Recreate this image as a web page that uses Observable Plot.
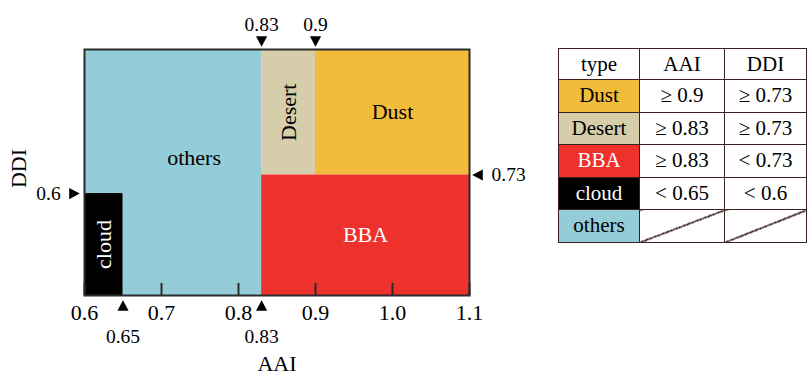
<!DOCTYPE html>
<html><head><meta charset="utf-8">
<script src="https://cdn.jsdelivr.net/npm/d3@7"></script>
<script src="https://cdn.jsdelivr.net/npm/@observablehq/plot@0.6"></script>
<style>
body{margin:0;background:#fff;}
#wrap{position:relative;width:807px;height:375px;font-family:"Liberation Serif",serif;}
#wrap svg{position:absolute;left:0;top:0;}
table{position:absolute;left:558px;top:48px;border-collapse:collapse;font-size:21px;font-family:"Liberation Serif",serif;}
td{border:1.5px solid #3b2020;text-align:center;padding:0;line-height:1;}
td.diag{background:linear-gradient(to bottom right, transparent calc(50% - 1px), #3b2020 calc(50% - 1px), #3b2020 calc(50% + 0.6px), transparent calc(50% + 0.6px));}
</style></head><body><div id="wrap"></div>
<script>
// ---- data ----
const types = ["Dust", "Desert", "BBA", "cloud", "others"];
const typeColors = ["#f2bc3a", "#d6cdab", "#ee312d", "#000000", "#94cdd8"];
const typeTextColors = ["#000000", "#000000", "#ffffff", "#ffffff", "#000000"];
const ddiMin = -0.115, ddiMax = 1.61; // schematic DDI extent of the panel
const regionType = ["others", "cloud", "Desert", "Dust", "BBA"];
const regionAAI = [[0.6, 0.83], [0.6, 0.65], [0.83, 0.9], [0.9, 1.1], [0.83, 1.1]];
const regionDDI = [[ddiMin, ddiMax], [ddiMin, 0.6], [0.73, ddiMax], [0.73, ddiMax], [ddiMin, 0.73]];
const regionRotate = [0, -90, -90, 0, 0];
const xTicks = [0.6, 0.7, 0.8, 0.9, 1.0, 1.1];
const topMarks = [0.83, 0.9];
const bottomMarks = [0.65, 0.83];
const leftMarks = [0.6];
const rightMarks = [0.73];
const tableHeader = ["type", "AAI", "DDI"];
const ruleAAI = ["≥ 0.9", "≥ 0.83", "≥ 0.83", "< 0.65", null];
const ruleDDI = ["≥ 0.73", "≥ 0.73", "< 0.73", "< 0.6", null];

// ---- build ----
const regions = regionType.map((t, i) => ({
  type: t, x1: regionAAI[i][0], x2: regionAAI[i][1], y1: regionDDI[i][0], y2: regionDDI[i][1],
  cx: (regionAAI[i][0] + regionAAI[i][1]) / 2, cy: (regionDDI[i][0] + regionDDI[i][1]) / 2,
  rotate: regionRotate[i],
  tc: typeTextColors[types.indexOf(t)]
}));

function tri(dir) {
  return {
    draw(ctx, size) {
      const r = Math.sqrt(size / Math.PI);
      const h = r * 1.9 / 2;
      if (dir === "down") { ctx.moveTo(-r, -h); ctx.lineTo(r, -h); ctx.lineTo(0, h); }
      if (dir === "up") { ctx.moveTo(-r, h); ctx.lineTo(r, h); ctx.lineTo(0, -h); }
      if (dir === "right") { ctx.moveTo(-h, -r); ctx.lineTo(-h, r); ctx.lineTo(h, 0); }
      if (dir === "left") { ctx.moveTo(h, -r); ctx.lineTo(h, r); ctx.lineTo(-h, 0); }
      ctx.closePath();
    }
  };
}
const fmt = d3.format(".2~f");
const font = "Liberation Serif";

const chart = Plot.plot({
  width: 807, height: 375,
  marginLeft: 84, marginRight: 338, marginTop: 49, marginBottom: 80,
  style: {fontFamily: font, fontSize: "22px", background: "transparent"},
  x: {domain: [0.6, 1.1], label: null},
  y: {domain: [ddiMin, ddiMax], axis: null},
  color: {domain: types, range: typeColors},
  marks: [
    Plot.rect(regions, {x1: "x1", x2: "x2", y1: "y1", y2: "y2", fill: "type"}),
    Plot.text(regions.filter(d => d.type !== "others"), {x: "cx", y: "cy", text: "type", rotate: "rotate", fill: "tc", fontSize: 22, fontFamily: font}),
    Plot.text(regions.filter(d => d.type === "others"), {x: "cx", y: "cy", text: "type", fill: "tc", fontSize: 22, fontFamily: font, dx: 21, dy: -15}),
    Plot.axisX(xTicks, {tickSize: 12, dy: -12, fill: "none", stroke: "#2b2b2b", strokeWidth: 2, label: null}),
    Plot.axisX(xTicks, {tickSize: 0, tickPadding: 9, tickFormat: d3.format(".1f"), fontSize: 22, fontFamily: font, fill: "#000", label: null}),
    Plot.frame({stroke: "#2b2b2b", strokeWidth: 2}),
    Plot.dot(topMarks, {x: d => d, y: () => ddiMax, dy: -8, r: 5.6, symbol: tri("down"), fill: "#000", stroke: "none"}),
    Plot.text(topMarks, {x: d => d, y: () => ddiMax, dy: -25, text: d => fmt(d), fontSize: 19.5, fontFamily: font}),
    Plot.dot(bottomMarks, {x: d => d, y: () => ddiMin, dy: 10, r: 5.6, symbol: tri("up"), fill: "#000", stroke: "none"}),
    Plot.text(bottomMarks, {x: d => d, y: () => ddiMin, dy: 41, text: d => fmt(d), fontSize: 19.5, fontFamily: font}),
    Plot.dot(leftMarks, {x: () => 0.6, y: d => d, dx: -10, r: 5.6, symbol: tri("right"), fill: "#000", stroke: "none"}),
    Plot.text(leftMarks, {x: () => 0.6, y: d => d, dx: -36, text: d => fmt(d), fontSize: 19.5, fontFamily: font}),
    Plot.dot(rightMarks, {x: () => 1.1, y: d => d, dx: 8, r: 5.6, symbol: tri("left"), fill: "#000", stroke: "none"}),
    Plot.text(rightMarks, {x: () => 1.1, y: d => d, dx: 22, textAnchor: "start", text: d => fmt(d), fontSize: 19.5, fontFamily: font}),
    Plot.text(["AAI"], {frameAnchor: "bottom", dy: 68, lineAnchor: "middle", textAnchor: "middle", text: d => d, fontSize: 22, fontFamily: font}),
    Plot.text(["DDI"], {frameAnchor: "left", dx: -66, dy: -4, rotate: -90, lineAnchor: "middle", textAnchor: "middle", text: d => d, fontSize: 22, fontFamily: font})
  ]
});
const wrap = document.getElementById("wrap");
wrap.appendChild(chart);

// ---- legend table ----
const table = document.createElement("table");
const colW = [80, 84, 81];
const hr = table.insertRow();
tableHeader.forEach((h, j) => {
  const c = hr.insertCell(); c.textContent = h; c.style.width = colW[j] + "px"; c.style.height = "30px";
});
types.forEach((t, i) => {
  const r = table.insertRow();
  const c0 = r.insertCell(); c0.textContent = t; c0.style.height = "31.5px";
  c0.style.background = typeColors[i]; c0.style.color = typeTextColors[i];
  [ruleAAI[i], ruleDDI[i]].forEach(v => {
    const c = r.insertCell();
    if (v === null) c.className = "diag"; else c.textContent = v;
  });
});
wrap.appendChild(table);
</script>
</body></html>
